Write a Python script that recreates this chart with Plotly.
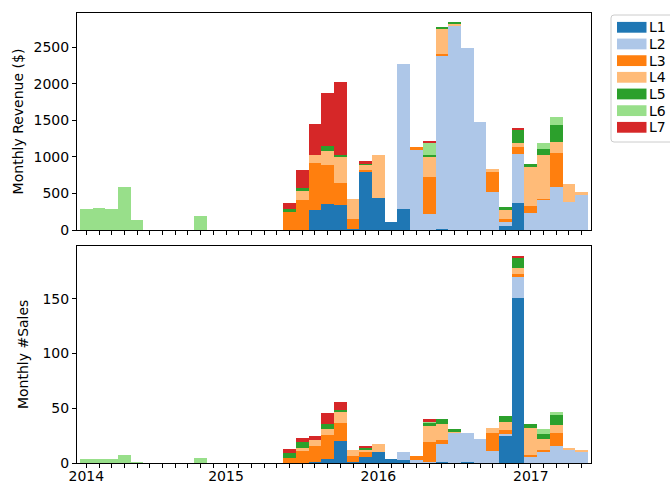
import plotly.graph_objects as go
from plotly.subplots import make_subplots

levels = ["L1", "L2", "L3", "L4", "L5", "L6", "L7"]
colors = ["#1f77b4", "#aec7e8", "#ff7f0e", "#ffbb78", "#2ca02c", "#98df8a", "#d62728"]

periods = list(range(40))
year_labels = ["2014", "2015", "2016", "2017"]
year_positions = [0, 11, 23, 35]

revenue_L1 = [0, 0, 0, 0, 0, 0, 0, 0, 0, 0, 0, 0, 0, 0, 0, 0, 0, 0, 274, 356,
              343, 14, 795, 438, 110, 288, 0, 0, 14, 0, 0, 0, 0, 55, 370, 0, 0, 0, 0, 0]
revenue_L2 = [0, 0, 0, 0, 0, 0, 0, 0, 0, 0, 0, 0, 0, 0, 0, 0, 0, 0, 0, 0,
              0, 0, 0, 0, 0, 1987, 1096, 219, 2370, 2795, 2494, 1480, 521, 68, 671, 233, 411, 589, 384, 480]
revenue_L3 = [0, 0, 0, 0, 0, 0, 0, 0, 0, 0, 0, 0, 0, 0, 0, 0, 247, 411, 644, 534,
              301, 137, 27, 0, 0, 0, 41, 507, 27, 0, 0, 0, 274, 27, 96, 96, 14, 466, 0, 0]
revenue_L4 = [0, 0, 0, 0, 0, 0, 0, 0, 0, 0, 0, 0, 0, 0, 0, 0, 0, 123, 110, 192,
              356, 274, 68, 589, 0, 0, 0, 274, 343, 27, 0, 0, 41, 123, 55, 534, 603, 151, 247, 41]
revenue_L5 = [0, 0, 0, 0, 0, 0, 0, 0, 0, 0, 0, 0, 0, 0, 0, 0, 37, 41, 0, 68,
              27, 0, 14, 0, 0, 0, 0, 27, 27, 14, 0, 0, 0, 41, 178, 41, 82, 233, 0, 0]
revenue_L6 = [288, 301, 288, 589, 137, 0, 0, 0, 0, 192, 0, 0, 0, 0, 0, 0, 0, 0, 0, 0,
              0, 0, 0, 0, 0, 0, 0, 164, 0, 0, 0, 0, 0, 0, 0, 0, 82, 110, 0, 0]
revenue_L7 = [0, 0, 0, 0, 0, 0, 0, 0, 0, 0, 0, 0, 0, 0, 0, 0, 87, 247, 425, 726,
              1000, 0, 41, 0, 0, 0, 0, 27, 0, 0, 0, 0, 0, 0, 27, 0, 0, 0, 0, 0]

sales_L1 = [0, 0, 0, 0, 0, 0, 0, 0, 0, 0, 0, 0, 0, 0, 0, 0, 0, 0, 1, 4,
            20, 1, 6, 10, 4, 3, 0, 0, 1, 0, 1, 0, 0, 25, 151, 0, 0, 0, 0, 0]
sales_L2 = [0, 0, 0, 0, 0, 0, 0, 0, 0, 0, 0, 0, 0, 0, 0, 0, 0, 0, 0, 0,
            0, 0, 0, 0, 0, 7, 3, 1, 17, 28, 27, 22, 11, 2, 19, 6, 11, 16, 12, 10]
sales_L3 = [0, 0, 0, 0, 0, 0, 0, 0, 0, 0, 0, 0, 0, 0, 0, 0, 5, 11, 15, 22,
            17, 6, 4, 0, 0, 0, 4, 18, 3, 0, 0, 0, 17, 3, 3, 2, 1, 12, 0, 0]
sales_L4 = [0, 0, 0, 0, 0, 0, 0, 0, 0, 0, 0, 0, 0, 0, 0, 0, 0, 3, 5, 5,
            10, 5, 3, 8, 0, 0, 0, 15, 15, 1, 0, 0, 4, 8, 5, 24, 10, 7, 2, 2]
sales_L5 = [0, 0, 0, 0, 0, 0, 0, 0, 0, 0, 0, 0, 0, 0, 0, 0, 4, 5, 0, 5,
            2, 0, 1, 0, 0, 0, 0, 3, 4, 2, 0, 0, 0, 5, 9, 4, 5, 9, 0, 0]
sales_L6 = [4, 4, 4, 8, 1, 0, 0, 0, 0, 5, 0, 0, 0, 0, 0, 0, 0, 0, 0, 0,
            0, 0, 0, 0, 0, 0, 0, 1, 0, 0, 0, 0, 0, 0, 0, 0, 4, 3, 0, 0]
sales_L7 = [0, 0, 0, 0, 0, 0, 0, 0, 0, 0, 0, 0, 0, 0, 0, 0, 4, 4, 4, 10,
            7, 0, 2, 0, 0, 0, 0, 2, 0, 0, 0, 0, 0, 0, 2, 0, 0, 0, 0, 0]

revenue = [revenue_L1, revenue_L2, revenue_L3, revenue_L4, revenue_L5, revenue_L6, revenue_L7]
sales = [sales_L1, sales_L2, sales_L3, sales_L4, sales_L5, sales_L6, sales_L7]

W, H = 670, 483
ML, MR, MT, MB = 77, 79, 13, 20
PW, PH = W - ML - MR, H - MT - MB


def px_x(px):
    return (px - ML) / PW


def px_y(py):
    return (H - MB - py) / PH


FONT = "DejaVu Sans"

fig = make_subplots(rows=2, cols=1, shared_xaxes=True)

for name, col, rv, sv in zip(levels, colors, revenue, sales):
    fig.add_trace(go.Bar(x=periods, y=rv, name=name, marker=dict(color=col, line=dict(width=0)),
                         width=1.0, showlegend=False), row=1, col=1)
    fig.add_trace(go.Bar(x=periods, y=sv, name=name, marker=dict(color=col, line=dict(width=0)),
                         width=1.0, showlegend=False), row=2, col=1)

tickvals = periods
ticktext = [year_labels[year_positions.index(p)] if p in year_positions else "" for p in periods]

axis_common = dict(showline=True, linecolor="black", linewidth=1, mirror=True,
                   ticks="outside", ticklen=4, tickwidth=1, tickcolor="black",
                   showgrid=False, zeroline=False,
                   tickfont=dict(family=FONT, size=14, color="black"))

xr = [-0.736, 39.74]
fig.update_xaxes(range=xr, tickmode="array", tickvals=tickvals, ticktext=ticktext, **axis_common)
fig.update_xaxes(showticklabels=False, row=1, col=1)
fig.update_xaxes(ticklabelstandoff=-4, row=2, col=1)
fig.update_xaxes(domain=[0, 1])

fig.update_yaxes(**axis_common)
fig.update_yaxes(range=[0, 2968], tickvals=[0, 500, 1000, 1500, 2000, 2500],
                 domain=[px_y(230), 1.0],
                 title=dict(text="Monthly Revenue ($)", font=dict(family=FONT, size=14, color="black"), standoff=6),
                 row=1, col=1)
fig.update_yaxes(range=[0, 198.4], tickvals=[0, 50, 100, 150],
                 domain=[0, px_y(245.7)],
                 title=dict(text="Monthly #Sales", font=dict(family=FONT, size=14, color="black"), standoff=10),
                 row=2, col=1)

# legend (drawn like matplotlib's, running to the figure edge)
shapes = []
annotations = []
x0, x1, y0, y1, r = 611, 690, 15, 142, 3
path = (f"M {px_x(x0 + r)} {px_y(y0)} L {px_x(x1)} {px_y(y0)} L {px_x(x1)} {px_y(y1)} "
        f"L {px_x(x0 + r)} {px_y(y1)} Q {px_x(x0)} {px_y(y1)} {px_x(x0)} {px_y(y1 - r)} "
        f"L {px_x(x0)} {px_y(y0 + r)} Q {px_x(x0)} {px_y(y0)} {px_x(x0 + r)} {px_y(y0)} Z")
shapes.append(dict(type="path", xref="paper", yref="paper", path=path,
                   line=dict(color="#cccccc", width=1), fillcolor="rgba(255,255,255,0.8)", layer="above"))
for i, (name, col) in enumerate(zip(levels, colors)):
    cy = 27.3 + 16.67 * i
    shapes.append(dict(type="rect", xref="paper", yref="paper",
                       x0=px_x(617), x1=px_x(646.5), y0=px_y(cy - 5.4), y1=px_y(cy + 5.4),
                       line=dict(width=0), fillcolor=col, layer="above"))
    annotations.append(dict(xref="paper", yref="paper", x=px_x(646.5), y=px_y(cy), text=name,
                            showarrow=False, xanchor="left", yanchor="middle",
                            font=dict(family=FONT, size=14, color="black")))

fig.update_layout(
    width=W, height=H,
    margin=dict(l=ML, r=MR, t=MT, b=MB, autoexpand=False),
    barmode="stack", bargap=0,
    plot_bgcolor="white", paper_bgcolor="white",
    font=dict(family=FONT, size=14, color="black"),
    shapes=shapes, annotations=annotations,
    showlegend=False,
)

fig.write_html("out.html", config={"displayModeBar": False},
               post_script="document.body.style.margin='0';document.body.style.overflow='hidden';")
